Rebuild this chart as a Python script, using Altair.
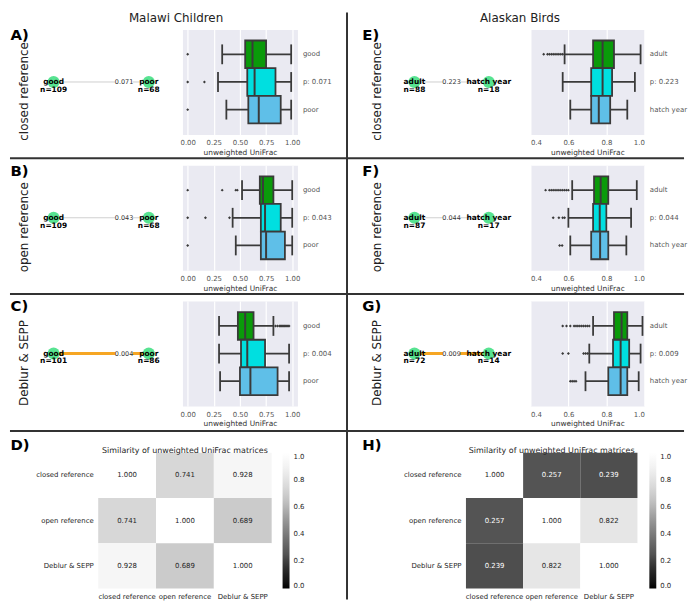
import altair as alt
import pandas as pd

FONT = "DejaVu Sans"
EDGE = "#3a3a3a"
BOX_COLORS = ["#0a9a0a", "#00dfe0", "#5fbfe8"]
NODE_COLOR = "#45e085"
GREYS_R = ["#000000", "#252525", "#525252", "#737373", "#969696", "#bdbdbd", "#d9d9d9", "#f0f0f0", "#ffffff"]
GREYS_STOPS = [0, 0.125, 0.25, 0.375, 0.5, 0.625, 0.75, 0.875, 1.0]

methods = ["closed reference", "open reference", "Deblur & SEPP"]

# ---------------- Malawi children : box plot summaries ----------------
mal_closed_labels = ["good", "p: 0.071", "poor"]
mal_closed_wlo = [0.33, 0.29, 0.37]
mal_closed_q1 = [0.55, 0.57, 0.58]
mal_closed_med = [0.62, 0.64, 0.68]
mal_closed_q3 = [0.75, 0.84, 0.89]
mal_closed_whi = [0.99, 0.99, 0.99]
mal_closed_out = [[0.0], [0.0, 0.16], [0.0]]

mal_open_labels = ["good", "p: 0.043", "poor"]
mal_open_wlo = [0.52, 0.43, 0.46]
mal_open_q1 = [0.69, 0.70, 0.70]
mal_open_med = [0.72, 0.74, 0.75]
mal_open_q3 = [0.82, 0.89, 0.93]
mal_open_whi = [1.0, 1.0, 1.0]
mal_open_out = [[0.0, 0.33, 0.46, 0.475], [0.0, 0.17, 0.40], [0.0]]

mal_deblur_labels = ["good", "p: 0.004", "poor"]
mal_deblur_wlo = [0.30, 0.30, 0.31]
mal_deblur_q1 = [0.48, 0.51, 0.50]
mal_deblur_med = [0.55, 0.57, 0.60]
mal_deblur_q3 = [0.63, 0.74, 0.86]
mal_deblur_whi = [0.82, 0.97, 0.97]
mal_deblur_out = [[0.84, 0.86, 0.88, 0.89, 0.90, 0.91, 0.92, 0.93, 0.94, 0.95, 0.96, 0.97], [], []]

# ---------------- Alaskan birds : box plot summaries ----------------
bird_closed_labels = ["adult", "p: 0.223", "hatch year"]
bird_closed_wlo = [0.58, 0.57, 0.61]
bird_closed_q1 = [0.73, 0.72, 0.72]
bird_closed_med = [0.78, 0.78, 0.76]
bird_closed_q3 = [0.84, 0.83, 0.82]
bird_closed_whi = [0.98, 0.95, 0.91]
bird_closed_out = [[0.47, 0.49, 0.50, 0.51, 0.52, 0.53, 0.54, 0.55, 0.56, 0.57], [], []]

bird_open_labels = ["adult", "p: 0.044", "hatch year"]
bird_open_wlo = [0.62, 0.60, 0.61]
bird_open_q1 = [0.735, 0.73, 0.72]
bird_open_med = [0.77, 0.765, 0.767]
bird_open_q3 = [0.81, 0.80, 0.81]
bird_open_whi = [0.96, 0.93, 0.905]
bird_open_out = [[0.48, 0.50, 0.51, 0.52, 0.53, 0.54, 0.55, 0.56, 0.57, 0.58, 0.59, 0.60],
                 [0.52, 0.55, 0.57, 0.58], [0.554, 0.567]]

bird_deblur_labels = ["adult", "p: 0.009", "hatch year"]
bird_deblur_wlo = [0.73, 0.71, 0.69]
bird_deblur_q1 = [0.84, 0.835, 0.81]
bird_deblur_med = [0.88, 0.875, 0.875]
bird_deblur_q3 = [0.91, 0.92, 0.91]
bird_deblur_whi = [0.99, 0.98, 0.97]
bird_deblur_out = [[0.57, 0.59, 0.61, 0.63, 0.64, 0.65, 0.66, 0.67, 0.68, 0.69, 0.70, 0.71],
                   [0.57, 0.60, 0.68, 0.69, 0.70, 0.71], [0.61, 0.62, 0.63, 0.64]]

# ---------------- network panels ----------------
mal_groups = ["good", "poor"]
mal_n_closed = [109, 68]
mal_n_open = [109, 68]
mal_n_deblur = [101, 86]
mal_p = ["0.071", "0.043", "0.004"]

bird_groups = ["adult", "hatch year"]
bird_n_closed = [88, 18]
bird_n_open = [87, 17]
bird_n_deblur = [72, 14]
bird_p = ["0.223", "0.044", "0.009"]

# ---------------- similarity matrices ----------------
mal_sim = [[1.000, 0.741, 0.928],
           [0.741, 1.000, 0.689],
           [0.928, 0.689, 1.000]]
bird_sim = [[1.000, 0.257, 0.239],
            [0.257, 1.000, 0.822],
            [0.239, 0.822, 1.000]]

ONE = pd.DataFrame({"k": [0]})


def box_panel(labels, wlo, q1, med, q3, whi, outliers, xdomain, xticks, xfmt, width, rules,
              letter, letter_x):
    df = pd.DataFrame({"cat": labels, "wlo": wlo, "q1": q1, "med": med, "q3": q3, "whi": whi})
    orows = [{"cat": c, "val": v} for c, vals in zip(labels, outliers) for v in vals]
    odf = pd.DataFrame(orows, columns=["cat", "val"])
    xsc = alt.Scale(domain=xdomain, nice=False, zero=False)
    xax = alt.Axis(values=xticks, format=xfmt, title="unweighted UniFrac", grid=True,
                   gridColor="white", gridWidth=1.2, ticks=False, domain=False,
                   labelFontSize=7, labelColor="#555555", labelPadding=4,
                   titleFontSize=7.5, titleFontWeight="normal", titleColor="#333333",
                   titlePadding=3)
    ysc = alt.Scale(domain=labels, paddingInner=0, paddingOuter=0.4)
    yax = alt.Axis(orient="right", title=letter, ticks=False, domain=False, grid=False,
                   labelFontSize=7, labelColor="#555555", labelPadding=5,
                   titleX=letter_x, titleY=5, titleAngle=0, titleAlign="left",
                   titleBaseline="middle", titleFontSize=15, titleFontWeight="bold",
                   titleColor="black")
    cs = alt.Scale(domain=labels, range=BOX_COLORS)

    def X(f):
        return alt.X(f, type="quantitative", scale=xsc, axis=xax, title="unweighted UniFrac")

    Y = alt.Y("cat:N", scale=ysc, axis=yax, title=letter)
    base = alt.Chart(df)
    layers = [
        base.mark_rule(color=EDGE, strokeWidth=1.8).encode(x=X("wlo"), x2="whi:Q", y=Y),
        base.mark_bar(stroke=EDGE, strokeWidth=1.8).encode(
            x=X("q1"), x2="q3:Q", y=Y,
            color=alt.Color("cat:N", scale=cs, legend=None)),
        base.mark_tick(color=EDGE, size=20, thickness=1.8, opacity=1).encode(x=X("wlo"), y=Y),
        base.mark_tick(color=EDGE, size=20, thickness=1.8, opacity=1).encode(x=X("whi"), y=Y),
        base.mark_tick(color=EDGE, size=27, thickness=2, opacity=1).encode(x=X("med"), y=Y),
        alt.Chart(odf).mark_point(shape="diamond", filled=True, size=9, color=EDGE, opacity=1).encode(
            x=X("val"), y=Y),
    ]
    for r in rules:
        layers.append(alt.Chart(ONE).mark_rule(color="#333333", strokeWidth=2).encode(**r))
    return alt.layer(*layers).properties(
        width=width, height=106,
        view=alt.ViewBackground(fill="#eaeaf2", stroke="transparent"))


def net_panel(names, ns, p, sig, xdomain, label_pos, row_label, rowlab_x, width,
              col_title=None, col_title_x=0):
    ndf = pd.DataFrame({"x": [0, 1], "y": [0, 0],
                        "label": [f"{names[0]}\nn={ns[0]}", f"{names[1]}\nn={ns[1]}"]})
    edf = pd.DataFrame({"x": [0], "x2": [1], "y": [0]})
    ldf = pd.DataFrame({"x": [label_pos], "y": [0], "p": [p]})
    if col_title:
        xax = alt.Axis(orient="top", labels=False, ticks=False, domain=False, grid=False,
                       title=col_title, titleX=col_title_x, titleY=-12, titleAlign="center",
                       titleBaseline="middle", titleAngle=0, titleFontSize=12,
                       titleFontWeight="normal", titleColor="#222222")
    else:
        xax = alt.Axis(orient="top", labels=False, ticks=False, domain=False, grid=False, title=None)
    X = alt.X("x:Q", scale=alt.Scale(domain=xdomain, nice=False, zero=False), axis=xax)
    Y = alt.Y("y:Q", scale=alt.Scale(domain=[-1, 1], nice=False, zero=False),
              axis=alt.Axis(orient="left", labels=False, ticks=False, domain=False, grid=False,
                            title=row_label, titleX=rowlab_x, titleY=62, titleAngle=270,
                            titleAlign="center", titleBaseline="middle", titleFontSize=12,
                            titleFontWeight="normal", titleColor="#222222"))
    ecol = "#f6a623" if sig else "#cfcfcf"
    ew = 3 if sig else 1
    layers = [
        alt.Chart(edf).mark_rule(color=ecol, strokeWidth=ew).encode(x=X, x2="x2:Q", y=Y),
        alt.Chart(ldf).mark_square(size=300, color="white", opacity=1).encode(x=X, y=Y),
        alt.Chart(ndf).mark_circle(size=150, color=NODE_COLOR, opacity=0.9).encode(x=X, y=Y),
        alt.Chart(ldf).mark_text(fontSize=6.5, color="#333333").encode(x=X, y=Y, text="p:N"),
        alt.Chart(ndf).mark_text(fontSize=7.5, fontWeight="bold", lineBreak="\n", lineHeight=8,
                                 color="black").encode(x=X, y=Y, text="label:N"),
    ]
    return alt.layer(*layers).properties(width=width, height=106,
                                         view=alt.ViewBackground(stroke="transparent"))


def heat_panel(matrix, letter, letter_x, view_w, x0, cell_w, legend_x, title_dx):
    rows = [{"row": methods[i], "col": methods[j], "v": matrix[i][j]}
            for i in range(3) for j in range(3)]
    df = pd.DataFrame(rows)
    X = alt.X("col:N", scale=alt.Scale(domain=methods, range=[x0, x0 + cell_w], paddingInner=0, paddingOuter=0),
              axis=alt.Axis(orient="bottom", labelAngle=0, ticks=False, domain=False, title=None,
                            labelFontSize=7, labelColor="#262626", labelPadding=4))
    Y = alt.Y("row:N", scale=alt.Scale(domain=methods, range=[16, 153], paddingInner=0, paddingOuter=0),
              axis=alt.Axis(orient="left", offset=-x0, ticks=False, domain=False, labelFontSize=7,
                            labelColor="#262626", labelPadding=5, title=letter, titleX=letter_x,
                            titleY=8, titleAngle=0, titleAlign="left", titleBaseline="middle",
                            titleFontSize=15, titleFontWeight="bold", titleColor="black"))
    rect = alt.Chart(df).mark_rect().encode(
        x=X, y=Y,
        color=alt.Color("v:Q", scale=alt.Scale(domain=GREYS_STOPS, range=GREYS_R),
                        legend=alt.Legend(orient="none", legendX=legend_x, legendY=16,
                                          direction="vertical", gradientLength=137,
                                          gradientThickness=7, title=None,
                                          values=[0, 0.2, 0.4, 0.6, 0.8, 1.0], format=".1f",
                                          labelFontSize=7, labelColor="#262626", labelOffset=4,
                                          gradientStrokeWidth=0, padding=0)))
    text = alt.Chart(df).mark_text(fontSize=7).encode(
        x=X, y=Y, text=alt.Text("v:Q", format=".3f"),
        color=alt.condition("datum.v < 0.5", alt.value("white"), alt.value("#262626")))
    return alt.layer(rect, text).properties(
        width=view_w, height=153, view=alt.ViewBackground(stroke="transparent"),
        title=alt.TitleParams("Similarity of unweighted UniFrac matrices", anchor="middle",
                              frame="group", dx=title_dx, offset=-18, fontSize=8,
                              fontWeight="normal", color="#262626"))


def spacer(w):
    return alt.Chart(ONE).mark_point(opacity=0).encode(x=alt.value(0), y=alt.value(0)).properties(
        width=w, height=153, view=alt.ViewBackground(stroke="transparent"))


LX = [-0.125, 1.229]
RX = [-1.4133, 1.4]
LBOX = dict(xdomain=[-0.05, 1.05], xticks=[0, 0.25, 0.5, 0.75, 1.0], xfmt=".2f", width=116, letter_x=-290)
RBOX = dict(xdomain=[0.4, 1.0], xticks=[0.4, 0.6, 0.8, 1.0], xfmt=".1f", width=115, letter_x=-285)

rowA_rules = [dict(x=alt.value(-174), x2=alt.value(506), y=alt.value(130)),
              dict(x=alt.value(166), y=alt.value(-17), y2=alt.value(575))]
rowB_rules = [dict(x=alt.value(-174), x2=alt.value(506), y=alt.value(130))]
rowC_rules = [dict(x=alt.value(-174), x2=alt.value(506), y=alt.value(131))]

charts = [
    net_panel(mal_groups, mal_n_closed, mal_p[0], False, LX, 0.74, "closed reference", -18, 130,
              "Malawi Children", 135),
    box_panel(mal_closed_labels, mal_closed_wlo, mal_closed_q1, mal_closed_med, mal_closed_q3,
              mal_closed_whi, mal_closed_out, rules=rowA_rules, letter="A)", **LBOX),
    net_panel(bird_groups, bird_n_closed, bird_p[0], False, RX, 0.5, "closed reference", 68, 211,
              "Alaskan Birds", 212),
    box_panel(bird_closed_labels, bird_closed_wlo, bird_closed_q1, bird_closed_med, bird_closed_q3,
              bird_closed_whi, bird_closed_out, rules=[], letter="E)", **RBOX),

    net_panel(mal_groups, mal_n_open, mal_p[1], False, LX, 0.74, "open reference", -18, 130),
    box_panel(mal_open_labels, mal_open_wlo, mal_open_q1, mal_open_med, mal_open_q3,
              mal_open_whi, mal_open_out, rules=rowB_rules, letter="B)", **LBOX),
    net_panel(bird_groups, bird_n_open, bird_p[1], False, RX, 0.5, "open reference", 68, 211),
    box_panel(bird_open_labels, bird_open_wlo, bird_open_q1, bird_open_med, bird_open_q3,
              bird_open_whi, bird_open_out, rules=[], letter="F)", **RBOX),

    net_panel(mal_groups, mal_n_deblur, mal_p[2], True, LX, 0.74, "Deblur & SEPP", -18, 130),
    box_panel(mal_deblur_labels, mal_deblur_wlo, mal_deblur_q1, mal_deblur_med, mal_deblur_q3,
              mal_deblur_whi, mal_deblur_out, rules=rowC_rules, letter="C)", **LBOX),
    net_panel(bird_groups, bird_n_deblur, bird_p[2], True, RX, 0.5, "Deblur & SEPP", 68, 211),
    box_panel(bird_deblur_labels, bird_deblur_wlo, bird_deblur_q1, bird_deblur_med, bird_deblur_q3,
              bird_deblur_whi, bird_deblur_out, rules=[], letter="G)", **RBOX),

    heat_panel(mal_sim, "D)", -89, 130, 57, 175, 243, 79.5),
    spacer(10),
    heat_panel(bird_sim, "H)", -105, 211, 158, 173, 343, 139),
]

chart = alt.concat(*charts, columns=4, spacing={"row": 31, "column": 12},
                   bounds="flush", align="each").properties(padding=0).configure(
    font=FONT).configure_axis(labelFont=FONT, titleFont=FONT).configure_title(
    font=FONT).configure_legend(labelFont=FONT).configure_view(stroke="transparent")

chart.save("out.html", embed_options={"renderer": "svg", "actions": False})
